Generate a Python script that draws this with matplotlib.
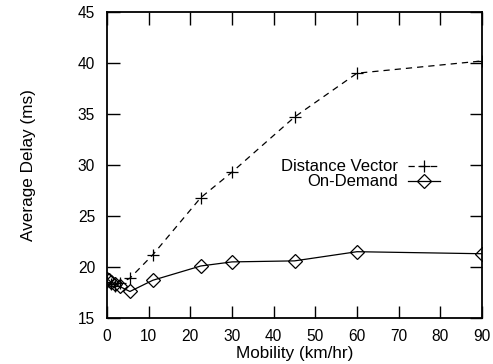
import matplotlib
matplotlib.use("Agg")
import matplotlib.pyplot as plt

plt.rcParams['font.family'] = ['Liberation Sans', 'DejaVu Sans']

dv_x = [0, 1, 2, 3, 5.5, 11, 22.5, 30, 45, 60, 90]
dv_y = [18.5, 18.3, 18.1, 18.4, 18.9, 21.2, 26.8, 29.3, 34.7, 39.0, 40.2]
od_x = [0, 0.5, 1, 2, 3, 5.5, 11, 22.5, 30, 45, 60, 90]
od_y = [18.8, 18.7, 18.5, 18.3, 18.1, 17.6, 18.7, 20.1, 20.5, 20.6, 21.5, 21.3]

xticks = [0, 10, 20, 30, 40, 50, 60, 70, 80, 90]
yticks = [15, 20, 25, 30, 35, 40, 45]

fig = plt.figure(figsize=(4.93, 3.64), dpi=100)
ax = fig.add_axes([107/493, 1-318/364, (482-107)/493, (318-12)/364])

ax.plot(dv_x, dv_y, color='black', linestyle=(0, (5, 4)), linewidth=0.9,
        marker='+', markersize=9, markeredgewidth=0.9, label='Distance Vector')
ax.plot(od_x, od_y, color='black', linestyle='-', linewidth=0.9,
        marker='D', markersize=7, markerfacecolor='none', markeredgewidth=0.9,
        label='On-Demand')

ax.set_xlim(0, 90)
ax.set_ylim(15, 45)
ax.set_xticks(xticks)
ax.set_yticks(yticks)
ax.tick_params(direction='in', length=9, width=1, top=True, right=True,
               labelsize=11.2)
ax.tick_params(axis='x', pad=8)
ax.tick_params(axis='y', pad=8.6)
for s in ax.spines.values():
    s.set_linewidth(1.3)

ax.set_xlabel('Mobility (km/hr)', fontsize=12.3, labelpad=1.5)
ax.set_ylabel('Average Delay (ms)', fontsize=12.3, labelpad=30)

leg = ax.legend(loc='upper right', bbox_to_anchor=(0.888, 0.518), frameon=False,
                markerfirst=False, fontsize=12, handlelength=1.95,
                handletextpad=0.55, labelspacing=0.0, borderaxespad=0,
                borderpad=0)

fig.savefig('out.png', dpi=100)
